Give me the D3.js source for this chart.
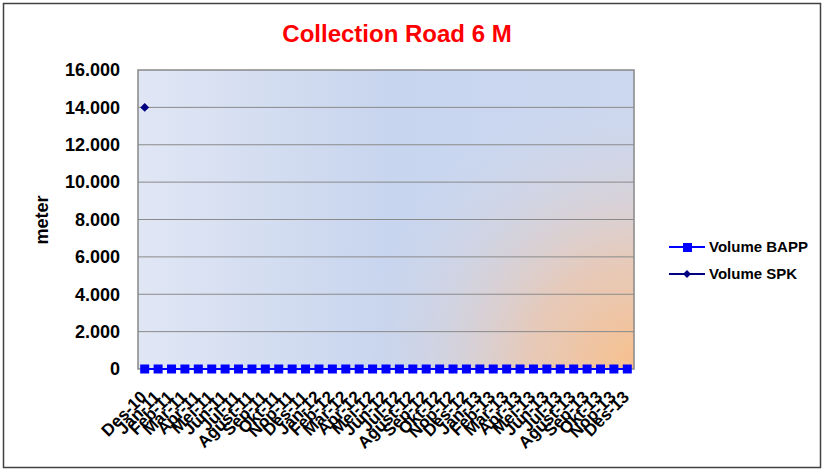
<!DOCTYPE html>
<html><head><meta charset="utf-8">
<script src="https://cdn.jsdelivr.net/npm/d3@7"></script>
<style>body{margin:0;background:#fff}svg{display:block;font-family:"Liberation Sans",Arial,sans-serif}</style>
</head><body>
<script>
const categories = ["Des-10","Jan-11","Feb-11","Mar-11","Apr-11","Mei-11","Jun-11","Jul-11","Agust-11","Sep-11","Okt-11","Nop-11","Des-11",
"Jan-12","Feb-12","Mar-12","Apr-12","Mei-12","Jun-12","Jul-12","Agust-12","Sep-12","Okt-12","Nop-12","Des-12",
"Jan-13","Feb-13","Mar-13","Apr-13","Mei-13","Jun-13","Jul-13","Agust-13","Sep-13","Okt-13","Nop-13","Des-13"];
const volumeBAPP = categories.map(() => 0);
const volumeSPK = [14000].concat(categories.slice(1).map(() => null));
const yTicks = [0,2000,4000,6000,8000,10000,12000,14000,16000];
const yTickLabels = ["0","2.000","4.000","6.000","8.000","10.000","12.000","14.000","16.000"];
const title = "Collection Road 6 M";

const W = 824, H = 471;
const m = {left:138, right:634, top:70, bottom:369};
const svg = d3.select("body").append("svg").attr("width",W).attr("height",H);
const defs = svg.append("defs");
const rg = defs.append("radialGradient").attr("id","glow").attr("gradientUnits","userSpaceOnUse")
  .attr("cx",640).attr("cy",375).attr("r",290);
rg.append("stop").attr("offset","0").attr("stop-color","#f9bf88").attr("stop-opacity",1);
rg.append("stop").attr("offset","0.4").attr("stop-color","#efc5a8").attr("stop-opacity",0.75);
rg.append("stop").attr("offset","1").attr("stop-color","#cdd8ef").attr("stop-opacity",0);
const lg = defs.append("linearGradient").attr("id","base").attr("x1",0).attr("x2",1).attr("y1",0).attr("y2",0);
lg.append("stop").attr("offset","0").attr("stop-color","#e0e6f4");
lg.append("stop").attr("offset","0.5").attr("stop-color","#c8d5ee");
lg.append("stop").attr("offset","1").attr("stop-color","#ccd8f0");

svg.append("rect").attr("x",3.5).attr("y",3.5).attr("width",817).attr("height",464)
  .attr("fill","#fff").attr("stroke","#404040").attr("stroke-width",1.5);

const x = d3.scaleBand().domain(categories).range([m.left,m.right]);
const y = d3.scaleLinear().domain([0,16000]).range([m.bottom,m.top]);

svg.append("rect").attr("x",m.left).attr("y",m.top).attr("width",m.right-m.left).attr("height",m.bottom-m.top).attr("fill","url(#base)");
svg.append("rect").attr("x",m.left).attr("y",m.top).attr("width",m.right-m.left).attr("height",m.bottom-m.top).attr("fill","url(#glow)");

// gridlines
svg.append("g").selectAll("line").data(yTicks.filter(d=>d>0 && d<16000)).join("line")
  .attr("x1",m.left).attr("x2",m.right).attr("y1",d=>y(d)).attr("y2",d=>y(d))
  .attr("stroke","#8a8a8a").attr("stroke-width",1);
svg.append("rect").attr("x",m.left).attr("y",m.top).attr("width",m.right-m.left).attr("height",m.bottom-m.top)
  .attr("fill","none").attr("stroke","#888").attr("stroke-width",1.5);

// y axis
const yAxis = d3.axisLeft(y).tickValues(yTicks).tickFormat((d,i)=>yTickLabels[i]).tickSize(0).tickPadding(18);
const gy = svg.append("g").attr("transform",`translate(${m.left},0)`).call(yAxis);
gy.select(".domain").remove();
gy.selectAll("text").attr("font-size",18).attr("font-weight","bold").attr("fill","#000")
  .attr("font-family","'Liberation Sans',Arial,sans-serif");

// x axis
const xAxis = d3.axisBottom(x).tickSize(0).tickPadding(0);
const gx = svg.append("g").attr("transform",`translate(0,${m.bottom})`).call(xAxis);
gx.select(".domain").remove();
gx.selectAll("text").attr("font-size",17).attr("font-weight","bold").attr("fill","#000")
  .attr("font-family","'Liberation Sans',Arial,sans-serif")
  .attr("text-anchor","end").attr("dy",0).attr("y",0)
  .attr("transform","translate(3,29) rotate(-45)");

// title
svg.append("text").attr("x",397).attr("y",42).attr("text-anchor","middle").attr("font-size",24)
  .attr("font-weight","bold").attr("fill","#ff0000").text(title);
// y title
svg.append("text").attr("transform","translate(48,220) rotate(-90)").attr("text-anchor","middle")
  .attr("font-size",18).attr("font-weight","bold").text("meter");

// series
const cx = d => x(d) + x.bandwidth()/2;
const line = d3.line().defined(d=>d.v!=null).x(d=>cx(d.c)).y(d=>y(d.v));
const bapp = categories.map((c,i)=>({c, v:volumeBAPP[i]}));
const spk = categories.map((c,i)=>({c, v:volumeSPK[i]}));
svg.append("path").datum(spk).attr("d",line).attr("fill","none").attr("stroke","#000080").attr("stroke-width",2);
svg.append("path").datum(bapp).attr("d",line).attr("fill","none").attr("stroke","#0000ff").attr("stroke-width",2);
svg.append("g").selectAll("rect").data(bapp).join("rect")
  .attr("x",d=>cx(d.c)-4.5).attr("y",d=>y(d.v)-4.5).attr("width",9).attr("height",9).attr("fill","#0000ff");
const diamond = d3.symbol().type(d3.symbolDiamond2).size(50);
svg.append("g").selectAll("path").data(spk.filter(d=>d.v!=null)).join("path")
  .attr("d",diamond).attr("transform",d=>`translate(${cx(d.c)},${y(d.v)})`).attr("fill","#000080");

// legend
const leg = svg.append("g");
leg.append("line").attr("x1",669).attr("x2",705).attr("y1",247).attr("y2",247).attr("stroke","#0000ff").attr("stroke-width",2);
leg.append("rect").attr("x",683).attr("y",243).attr("width",9).attr("height",9).attr("fill","#0000ff");
leg.append("text").attr("x",709).attr("y",252).attr("font-size",15).attr("font-weight","bold").text("Volume BAPP");
leg.append("line").attr("x1",669).attr("x2",705).attr("y1",274).attr("y2",274).attr("stroke","#000080").attr("stroke-width",2);
leg.append("path").attr("d",d3.symbol().type(d3.symbolDiamond2).size(40)).attr("transform","translate(687,274)").attr("fill","#000080");
leg.append("text").attr("x",709).attr("y",279).attr("font-size",15).attr("font-weight","bold").text("Volume SPK");
</script>
</body></html>
